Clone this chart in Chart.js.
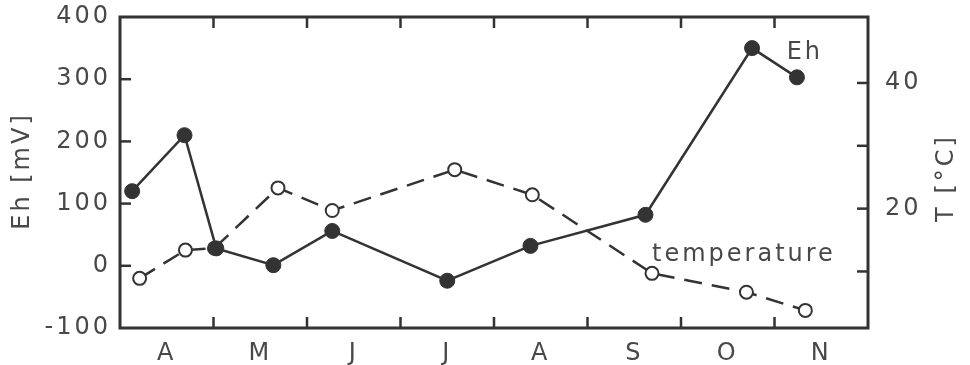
<!DOCTYPE html>
<html>
<head>
<meta charset="utf-8">
<script src="https://cdn.jsdelivr.net/npm/chart.js@4/dist/chart.umd.min.js"></script>
<style>
  html, body { margin: 0; padding: 0; background: #ffffff; }
  #wrap { width: 970px; height: 365px; }
</style>
</head>
<body>
<div id="wrap"><canvas id="c" width="970" height="365"></canvas></div>
<script>
// ---- data ----
const months = ['A', 'M', 'J', 'J', 'A', 'S', 'O', 'N'];
// sampling dates as fractional months since 1 April
const ehX = [0.13, 0.69, 1.03, 1.64, 2.27, 3.50, 4.39, 5.62, 6.76, 7.24];
const ehMv = [120, 210, 28, 1, 56, -24, 32, 82, 350, 303];
const tempX = [0.21, 0.70, 1.01, 1.69, 2.27, 3.58, 4.41, 5.69, 6.70, 7.33];
const tempC = [8.9, 13.4, 13.7, 23.3, 19.7, 26.2, 22.2, 9.7, 6.7, 3.8];
const ehTicks = [-100, 0, 100, 200, 300, 400];
const tempTicks = [10, 20, 30, 40];
const tempLabeled = [20, 40];

const INK = '#333333';
const TXT = '#484848';
const FONT = 'DejaVu Sans';
const FS = 24;
const LS = '3px';

function noPad(s) { s.paddingTop = 0; s.paddingBottom = 0; s.paddingLeft = 0; s.paddingRight = 0; }

const frameAndTicks = {
  id: 'frameAndTicks',
  beforeInit(chart) { chart.ctx.letterSpacing = LS; },
  beforeDraw(chart) { chart.ctx.letterSpacing = LS; },
  beforeDatasetsDraw(chart) {
    const { ctx, chartArea: a, scales } = chart;
    ctx.save();
    ctx.strokeStyle = INK;
    ctx.lineWidth = 2.5;
    const L = 11;
    for (let i = 1; i < months.length; i++) {
      const x = scales.x.getPixelForValue(i);
      ctx.beginPath();
      ctx.moveTo(x, a.bottom); ctx.lineTo(x, a.bottom - L);
      ctx.moveTo(x, a.top); ctx.lineTo(x, a.top + L);
      ctx.stroke();
    }
    ehTicks.forEach(v => {
      const y = scales.y.getPixelForValue(v);
      if (y <= a.top + 2 || y >= a.bottom - 2) return;
      ctx.beginPath(); ctx.moveTo(a.left, y); ctx.lineTo(a.left + L, y); ctx.stroke();
    });
    tempTicks.forEach(v => {
      const y = scales.y2.getPixelForValue(v);
      ctx.beginPath(); ctx.moveTo(a.right, y); ctx.lineTo(a.right - L, y); ctx.stroke();
    });
    ctx.lineWidth = 3;
    ctx.strokeRect(a.left, a.top, a.right - a.left, a.bottom - a.top);
    ctx.restore();
  },
  afterDraw(chart) {
    const { ctx, chartArea: a, scales } = chart;
    ctx.save();
    ctx.letterSpacing = LS;
    ctx.fillStyle = TXT;
    ctx.font = FS + 'px "' + FONT + '"';
    ctx.textBaseline = 'middle';
    ctx.textAlign = 'left';
    ctx.fillText('Eh', scales.x.getPixelForValue(7.13), scales.y.getPixelForValue(342));
    ctx.fillText('temperature', scales.x.getPixelForValue(5.69), scales.y2.getPixelForValue(12.6));
    ctx.textAlign = 'center';
    const cy = (a.top + a.bottom) / 2;
    ctx.save();
    ctx.translate(23, cy);
    ctx.rotate(-Math.PI / 2);
    ctx.fillText('Eh [mV]', 1.5, 0);
    ctx.restore();
    ctx.save();
    ctx.translate(947, cy + 7);
    ctx.rotate(-Math.PI / 2);
    ctx.fillText('T [°C]', 1.5, 0);
    ctx.restore();
    ctx.restore();
  }
};

const chart = new Chart(document.getElementById('c'), {
  type: 'line',
  data: {
    datasets: [
      {
        label: 'Eh',
        yAxisID: 'y',
        data: ehX.map((x, i) => ({ x, y: ehMv[i] })),
        borderColor: INK,
        borderWidth: 2.5,
        pointRadius: 7.5,
        pointBackgroundColor: INK,
        pointBorderColor: INK,
        pointBorderWidth: 1,
        tension: 0
      },
      {
        label: 'temperature',
        yAxisID: 'y2',
        data: tempX.map((x, i) => ({ x, y: tempC[i] })),
        borderColor: INK,
        borderWidth: 2.5,
        borderDash: [18, 10],
        pointRadius: 6.5,
        pointBackgroundColor: '#ffffff',
        pointBorderColor: INK,
        pointBorderWidth: 2,
        tension: 0
      }
    ]
  },
  options: {
    responsive: false,
    animation: false,
    devicePixelRatio: 1,
    layout: { padding: { top: 17, left: 0, right: 0, bottom: 0 } },
    plugins: { legend: { display: false }, tooltip: { enabled: false } },
    scales: {
      x: {
        type: 'linear',
        min: 0, max: months.length,
        grid: { display: false, drawTicks: false },
        border: { display: false },
        afterBuildTicks(s) { s.ticks = months.map((m, i) => ({ value: i + 0.5 })); },
        afterFit(s) { s.height = 37; noPad(s); },
        ticks: {
          autoSkip: false, maxRotation: 0, padding: 11,
          color: TXT, font: { family: FONT, size: FS },
          callback: v => months[Math.round(v - 0.5)]
        }
      },
      y: {
        position: 'left',
        min: -100, max: 400,
        grid: { display: false, drawTicks: false },
        border: { display: false },
        afterBuildTicks(s) { s.ticks = ehTicks.map(v => ({ value: v })); },
        afterFit(s) { s.width = 120; noPad(s); },
        ticks: { padding: 9, color: TXT, font: { family: FONT, size: FS } }
      },
      y2: {
        position: 'right',
        min: 1, max: 50.5,
        grid: { display: false, drawTicks: false },
        border: { display: false },
        afterBuildTicks(s) { s.ticks = tempTicks.map(v => ({ value: v })); },
        afterFit(s) { s.width = 102; noPad(s); },
        ticks: {
          padding: 17, color: TXT, font: { family: FONT, size: FS },
          callback: v => tempLabeled.includes(v) ? String(v) : ''
        }
      }
    }
  },
  plugins: [frameAndTicks]
});
</script>
</body>
</html>
